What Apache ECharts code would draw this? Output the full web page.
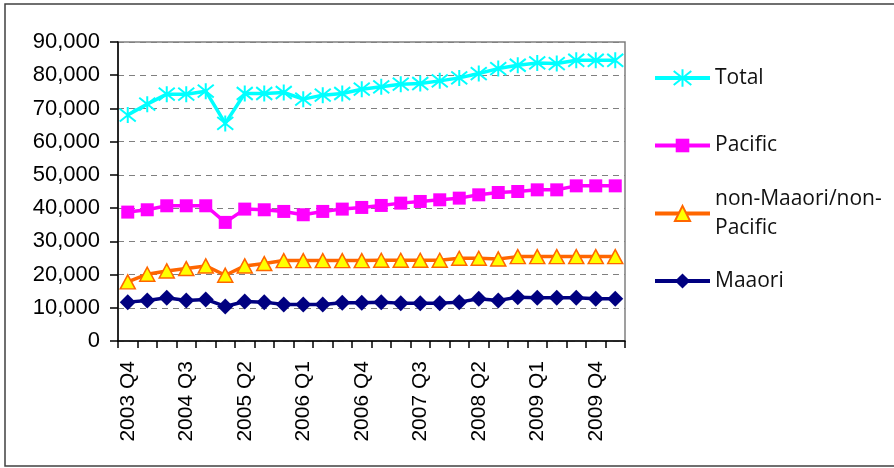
<!DOCTYPE html>
<html>
<head>
<meta charset="utf-8">
<script src="https://cdn.jsdelivr.net/npm/echarts@6/dist/echarts.min.js"></script>
<style>
  html, body { margin: 0; padding: 0; background: #fff; }
  #chart { width: 894px; height: 468px; }
</style>
</head>
<body>
<div id="chart"></div>
<script>
// Quarterly counts, 2003 Q4 to 2010 Q1
const quarters = [
  '2003 Q4',
  '2004 Q1', '2004 Q2', '2004 Q3', '2004 Q4',
  '2005 Q1', '2005 Q2', '2005 Q3', '2005 Q4',
  '2006 Q1', '2006 Q2', '2006 Q3', '2006 Q4',
  '2007 Q1', '2007 Q2', '2007 Q3', '2007 Q4',
  '2008 Q1', '2008 Q2', '2008 Q3', '2008 Q4',
  '2009 Q1', '2009 Q2', '2009 Q3', '2009 Q4',
  '2010 Q1'
];

const total = [68000, 71300, 74300, 74300, 75200, 65500, 74500, 74500, 74800, 72800, 74000, 74500, 75800,
               76500, 77300, 77500, 78300, 79200, 80500, 82000, 83000, 83700, 83500, 84500, 84500, 84500];
const pacific = [38800, 39500, 40700, 40700, 40700, 35700, 39700, 39500, 39000, 38000, 39000, 39700, 40200,
                 40800, 41500, 42000, 42500, 43000, 44000, 44700, 45000, 45500, 45500, 46700, 46700, 46700];
const nonMaaoriNonPacific = [17800, 20100, 21100, 21800, 22600, 19800, 22600, 23300, 24200, 24200, 24200, 24200, 24200,
                             24300, 24300, 24300, 24300, 24900, 24900, 24700, 25400, 25400, 25400, 25400, 25400, 25400];
const maaori = [11700, 12200, 13000, 12200, 12500, 10400, 11900, 11700, 11000, 11000, 11000, 11500, 11500,
                11700, 11400, 11400, 11400, 11700, 12700, 12200, 13200, 13000, 13000, 13000, 12700, 12700];

const yTicks = { min: 0, max: 90000, step: 10000 };

// Asterisk marker: an X crossed by a vertical stroke
const starPath = 'path://M-1,-1L1,1M-1,1L1,-1M0,-1.25L0,1.25';

const chart = echarts.init(document.getElementById('chart'), null, { renderer: 'canvas' });

const legendFont = { fontFamily: 'Open Sans', fontSize: 21, color: '#111', lineHeight: 29 };

function legendAt(name, top, iconHeight, extra) {
  return Object.assign({
    data: [name],
    left: 653,
    top: top,
    orient: 'vertical',
    padding: 0,
    itemWidth: 55,
    itemHeight: iconHeight,
    selectedMode: false,
    lineStyle: { width: 4 },
    textStyle: legendFont
  }, extra || {});
}

chart.setOption({
  animation: false,
  graphic: [{
    type: 'rect',
    shape: { x: 5, y: 4, width: 900, height: 462 },
    style: { fill: 'none', stroke: '#404040', lineWidth: 1.5 },
    silent: true
  }],
  grid: {
    left: 118, top: 42, right: 269, bottom: 127,
    show: true, borderColor: '#808080', borderWidth: 1.5, backgroundColor: 'transparent'
  },
  legend: [
    legendAt('Total', 63.5, 22),
    legendAt('Pacific', 131, 17),
    legendAt('non-Maaori/non-Pacific', 170, 19, {
      formatter: () => 'non-Maaori/non-\nPacific',
      textStyle: Object.assign({}, legendFont, { padding: [29, 0, 0, 0] })
    }),
    legendAt('Maaori', 266.5, 19)
  ],
  xAxis: {
    type: 'category',
    data: quarters,
    boundaryGap: true,
    axisLine: { lineStyle: { color: '#000', width: 1.5 } },
    axisTick: { show: true, alignWithLabel: false, interval: 0, length: 7, lineStyle: { color: '#000', width: 1.5 } },
    axisLabel: {
      interval: 2, rotate: 90, margin: 20,
      fontFamily: 'Liberation Sans', fontSize: 21, color: '#000'
    },
    splitLine: { show: false }
  },
  yAxis: {
    type: 'value',
    min: yTicks.min, max: yTicks.max, interval: yTicks.step,
    axisLine: { show: true, lineStyle: { color: '#000', width: 1.5 } },
    axisTick: { show: true, length: 8, lineStyle: { color: '#000', width: 1.5 } },
    axisLabel: {
      margin: 18,
      fontFamily: 'Liberation Sans', fontSize: 22, color: '#000',
      formatter: v => v.toLocaleString('en-US')
    },
    splitLine: { show: true, lineStyle: { color: '#808080', width: 1.2, type: [6, 5] } }
  },
  series: [
    {
      name: 'Total', type: 'line', data: total,
      symbol: starPath, symbolSize: [16, 16], showAllSymbol: true,
      lineStyle: { color: '#00FFFF', width: 3.5 },
      itemStyle: { color: '#00FFFF', borderColor: '#00FFFF', borderWidth: 2 },
      z: 4
    },
    {
      name: 'Pacific', type: 'line', data: pacific,
      symbol: 'rect', symbolSize: 13, showAllSymbol: true,
      lineStyle: { color: '#FF00FF', width: 3.5 },
      itemStyle: { color: '#FF00FF', borderWidth: 0 },
      z: 3
    },
    {
      name: 'non-Maaori/non-Pacific', type: 'line', data: nonMaaoriNonPacific,
      symbol: 'triangle', symbolSize: [15, 14], showAllSymbol: true,
      lineStyle: { color: '#FF6600', width: 3.5 },
      itemStyle: { color: '#FFFF00', borderColor: '#FF6600', borderWidth: 1.5 },
      z: 2
    },
    {
      name: 'Maaori', type: 'line', data: maaori,
      symbol: 'diamond', symbolSize: [16, 16], showAllSymbol: true,
      lineStyle: { color: '#000080', width: 3.5 },
      itemStyle: { color: '#000080', borderWidth: 0 },
      z: 1
    }
  ]
});
</script>
</body>
</html>
